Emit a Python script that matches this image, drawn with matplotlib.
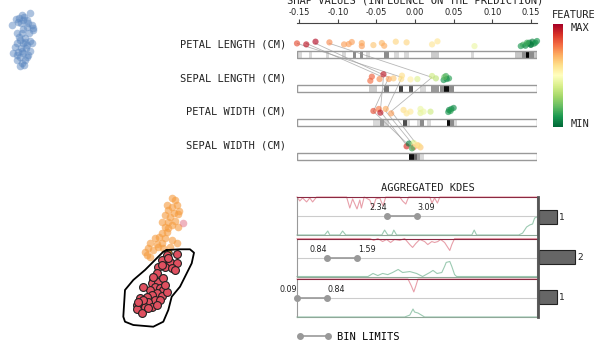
import numpy as np
import matplotlib
matplotlib.use("Agg")
import matplotlib.pyplot as plt
from matplotlib.lines import Line2D
from matplotlib.colors import Normalize
from matplotlib.cm import ScalarMappable

W, H = 603, 346

# ---- data -------------------------------------------------------------
# 2D projection (left), in projection units
blue_x = [30, 21.7, 19.3, 24, 16, 11.7, 20.7, 28.3, 31.7, 26.7, 33.3, 23.3, 16.7, 29.3, 21.7, 25, 30, 20, 16.7, 23.3,
          26.7, 31.7, 15, 20.7, 26, 18.3, 13.3, 23.3, 30, 28.3, 20, 16.7, 25, 21.7, 20, 24, 18.3, 27.3, 22.7, 33.3,
          19.3, 24.7, 22, 26.7, 17.3]
blue_y = [13.3, 15, 18.3, 16.7, 19.3, 25, 23.3, 22.7, 25, 26.7, 28.3, 29.3, 33.3, 32.7, 33.3, 38.3, 40.7, 40, 43.3, 43.3,
          45, 42.7, 46.7, 48.3, 48.3, 51.7, 53.3, 53.3, 50.7, 55, 56.7, 60, 60, 63.3, 66, 65, 21.7, 20, 20, 30,
          37.3, 41.7, 50.7, 57.3, 55]
orange_x = [171.7, 175, 166.7, 171.7, 176.7, 179.3, 168.3, 174, 165, 170, 178.3, 161.7, 168.3, 175, 171.7, 165, 178.3,
            161.7, 166.7, 159.3, 155, 165, 171.7, 150, 156.7, 161.7, 148.3, 153.3, 145, 150, 163.3, 176.7, 170, 146.7,
            158.3, 168.3]
orange_y = [198.3, 200, 205, 206.7, 205, 210.7, 210, 212.7, 215, 216.7, 214, 221.7, 221.7, 220.7, 225, 227.3, 226.7,
            233.3, 231.7, 236.7, 238.3, 238.3, 240, 243.3, 244, 242.7, 248.3, 250, 251.7, 256.7, 248.3, 243.3, 246.7, 255,
            246.7, 228.3]
red_x = [176.7, 166.7, 161.7, 170, 176.7, 165, 171.7, 175, 158.3, 156.7, 153.3, 151.7, 158.3, 163.3, 155, 160, 150,
         143.3, 163.3, 156.7, 151.7, 161.7, 146.7, 140, 155, 148.3, 141.7, 136.7, 145, 151.7, 136.7, 141.7, 148.3, 160,
         156.7, 166.7, 165, 153.3, 143.3, 138.3, 161.7, 168.3]
red_y = [254, 255, 260, 261.7, 263.3, 266.7, 268.3, 270, 267.3, 273.3, 280, 283.3, 281.7, 278.3, 286.7, 288.3, 290,
         287.3, 290, 293.3, 295, 296, 296.7, 298.3, 300, 301.7, 303.3, 305, 306.7, 306.7, 309.3, 312.7, 308.3, 300,
         305, 291.7, 285, 276.7, 300, 301.7, 265, 258.3]
lasso_x = [166.7, 180, 190, 194, 191.7, 185, 180, 171.7, 168.3, 163.3, 153.3, 133.3, 125, 123.3, 125, 133.3, 145,
           156.7, 163.3, 166.7]
lasso_y = [250, 249.3, 249.3, 252.7, 263.3, 276.7, 286.7, 296.7, 310, 321.7, 326.7, 325, 321.7, 316.7, 290, 280, 270,
           258.3, 251.7, 250]

features = ["PETAL LENGTH (CM)", "SEPAL LENGTH (CM)", "PETAL WIDTH (CM)", "SEPAL WIDTH (CM)"]
shap_ticks = [-0.15, -0.10, -0.05, 0.00, 0.05, 0.10, 0.15]

# shap values, feature value (0=min, 1=max), vertical jitter (row units)
pl_shap = [-0.153, -0.141, -0.129, -0.111, -0.092, -0.086, -0.082, -0.069, -0.069, -0.054, -0.043, -0.040, -0.025,
           -0.011, 0.022, 0.029, 0.077, 0.137, 0.140, 0.143, 0.146, 0.148, 0.150, 0.152, 0.154, 0.156, 0.158, 0.150,
           0.145]
pl_feat = [0.85, 0.95, 0.97, 0.75, 0.72, 0.72, 0.72, 0.70, 0.72, 0.65, 0.68, 0.70, 0.62, 0.62, 0.58, 0.58, 0.45,
           0.10, 0.15, 0.08, 0.12, 0.05, 0.10, 0.05, 0.12, 0.08, 0.10, 0.03, 0.15]
pl_jit = [-0.33, -0.30, -0.38, -0.36, -0.30, -0.31, -0.37, -0.34, -0.25, -0.28, -0.34, -0.26, -0.38, -0.36, -0.30,
          -0.39, -0.25, -0.25, -0.29, -0.26, -0.32, -0.35, -0.29, -0.38, -0.32, -0.35, -0.40, -0.29, -0.35]
sl_shap = [-0.058, -0.056, -0.046, -0.041, -0.034, -0.028, -0.017, -0.018, -0.006, 0.003, 0.022, 0.027, 0.037, 0.040,
           0.044, 0.041, 0.038]
sl_feat = [0.80, 0.82, 0.75, 0.95, 0.72, 0.65, 0.60, 0.60, 0.55, 0.42, 0.38, 0.35, 0.10, 0.15, 0.12, 0.08, 0.20]
sl_jit = [-0.23, -0.35, -0.28, -0.42, -0.28, -0.30, -0.38, -0.28, -0.27, -0.28, -0.37, -0.30, -0.25, -0.37, -0.30,
          -0.28, -0.34]
pw_shap = [-0.054, -0.047, -0.045, -0.038, -0.031, -0.015, -0.011, -0.006, 0.007, 0.007, 0.011, 0.020, 0.044, 0.047,
           0.050, 0.046, 0.043]
pw_feat = [0.85, 0.78, 0.95, 0.70, 0.72, 0.60, 0.58, 0.57, 0.45, 0.43, 0.45, 0.38, 0.05, 0.10, 0.08, 0.12, 0.10]
pw_jit = [-0.34, -0.40, -0.29, -0.40, -0.27, -0.37, -0.27, -0.32, -0.40, -0.28, -0.32, -0.32, -0.37, -0.40, -0.43,
          -0.34, -0.31]
sw_shap = [-0.011, -0.008, -0.002, -0.002, -0.004, 0.003, 0.007, 0.001, 0.005]
sw_feat = [0.90, 0.05, 0.40, 0.80, 0.15, 0.70, 0.65, 0.55, 0.60]
sw_jit = [-0.30, -0.38, -0.40, -0.27, -0.24, -0.33, -0.27, -0.35, -0.32]

# same instances followed across the four rows
inst_a = [-0.141, -0.041, -0.045, -0.011]
inst_b = [-0.129, -0.034, -0.054, -0.008]
inst_c = [-0.153, -0.017, -0.038, -0.002]
inst_d = [-0.111, 0.022, -0.031, 0.003]

# density strips: (left, right, grey level)
pl_cells = [(-0.153, -0.146, 0.85), (-0.138, -0.133, 0.85), (-0.116, -0.111, 0.85), (-0.095, -0.089, 0.85),
            (-0.081, -0.076, 0.55), (-0.072, -0.067, 0.55), (-0.063, -0.058, 0.85), (-0.040, -0.034, 0.55),
            (-0.027, -0.021, 0.85), (-0.014, -0.008, 0.85), (0.021, 0.031, 0.8), (0.073, 0.077, 0.85),
            (0.129, 0.138, 0.78), (0.138, 0.144, 0.55), (0.144, 0.147, 0.0), (0.147, 0.154, 0.55),
            (0.154, 0.158, 0.78)]
sl_cells = [(-0.060, -0.049, 0.8), (-0.040, -0.034, 0.45), (-0.021, -0.016, 0.25), (-0.008, -0.003, 0.35),
            (0.007, 0.014, 0.85), (0.021, 0.031, 0.6), (0.032, 0.037, 0.55), (0.037, 0.044, 0.05),
            (0.044, 0.050, 0.55)]
pw_cells = [(-0.054, -0.045, 0.85), (-0.045, -0.040, 0.6), (-0.040, -0.034, 0.85), (-0.016, -0.011, 0.3),
            (-0.011, -0.006, 0.85), (0.003, 0.007, 0.85), (0.007, 0.012, 0.55), (0.016, 0.021, 0.85),
            (0.041, 0.045, 0.05), (0.045, 0.050, 0.55), (0.050, 0.054, 0.85)]
sw_cells = [(-0.008, -0.002, 0.05), (-0.002, 0.003, 0.4), (0.003, 0.007, 0.65), (0.007, 0.012, 0.85)]

# aggregated kdes: x in feature units, red hangs from top, green rises from bottom
k1_red_x = [0.09, 0.16, 0.23, 0.33, 0.41, 0.48, 0.58, 1.33, 1.41, 1.48, 1.59, 1.66, 1.70, 1.77, 1.91, 1.99, 2.06, 2.16,
            2.24, 2.31, 2.66, 2.73, 2.81, 2.88, 3.41, 3.465, 3.53, 3.60, 3.66, 6.09]
k1_red_y = [0, 0.21, 0.05, 0.26, 0.05, 0.26, 0, 0, 0.58, 0.1, 0.63, 0.16, 0.58, 0, 0.16, 0.58, 0.1, 0.05, 0.47, 0,
            0, 0.21, 0.37, 0, 0, 0.32, 0.05, 0.32, 0, 0]
k1_grn_x = [0.09, 0.78, 0.86, 0.91, 1.16, 1.23, 1.31, 2.21, 2.28, 2.36, 2.46, 2.51, 2.58, 4.46, 4.52, 4.58, 5.63, 5.73,
            5.83, 5.91, 5.98, 6.03, 6.09]
k1_grn_y = [0, 0, 0.21, 0, 0, 0.21, 0, 0, 0.26, 0, 0, 0.26, 0, 0, 0.26, 0, 0, 0.1, 0.42, 0.53, 0.58, 0.89, 0.95]
k2_red_x = [0.09, 1.91, 2.01, 2.11, 2.23, 2.33, 2.43, 2.53, 2.66, 2.78, 2.91, 2.98, 3.06, 3.16, 3.28, 3.36, 3.46, 3.53,
            3.61, 3.68, 3.78, 3.86, 3.91, 3.96, 4.03, 6.09]
k2_red_y = [0, 0, 0.1, 0, 0.16, 0.05, 0.21, 0.05, 0.1, 0, 0.32, 0.47, 0.26, 0.05, 0.16, 0.32, 0.16, 0.21, 0.16, 0.05,
            0.21, 0.47, 0.63, 0.32, 0, 0]
k2_grn_x = [0.09, 1.865, 1.99, 2.11, 2.23, 2.36, 2.48, 2.62, 2.73, 2.91, 3.08, 3.23, 3.41, 3.49, 3.59, 3.71, 3.78, 3.82,
            3.91, 3.96, 4.03, 4.08, 6.09]
k2_grn_y = [0, 0, 0.16, 0.05, 0.16, 0.1, 0.21, 0.37, 0.21, 0.26, 0.16, 0, 0.21, 0.32, 0.16, 0.21, 0.53, 0.74, 0.79,
            0.53, 0.1, 0, 0]
k3_red_x = [0.09, 2.865, 2.95, 3.01, 3.06, 3.115, 6.09]
k3_red_y = [0, 0, 0.37, 0.68, 0.37, 0, 0]
k3_grn_x = [0.09, 2.78, 2.91, 2.99, 3.03, 3.115, 3.28, 6.09]
k3_grn_y = [0, 0, 0.1, 0.42, 0.26, 0.21, 0, 0]

bin_limits = [(2.34, 3.09), (0.84, 1.59), (0.09, 0.84)]
bin_counts = [1, 2, 1]

# ---- figure -----------------------------------------------------------
plt.rcParams["font.family"] = "DejaVu Sans Mono"
plt.rcParams["axes.unicode_minus"] = False
TXT = "#222222"
NUM = dict(family="DejaVu Sans")

fig = plt.figure(figsize=(W / 100, H / 100), dpi=100)


def px_axes(x0, y0, x1, y1):
    return fig.add_axes([x0 / W, 1 - y1 / H, (x1 - x0) / W, (y1 - y0) / H])


# left projection with lasso
ax = px_axes(0, 0, 200, 346)
ax.set_xlim(0, 200)
ax.set_ylim(346, 0)
ax.axis("off")
ax.scatter(blue_x, blue_y, s=30, color="#5b87c0", alpha=0.5, linewidths=0)
ax.scatter(orange_x, orange_y, s=30, color="#f59a3c", alpha=0.6, linewidths=0)
ax.scatter([183.3], [222.7], s=30, color="#e06a80", alpha=0.5, linewidths=0)
ax.plot(lasso_x, lasso_y, color="black", lw=1.3)
ax.scatter([168.3], [253.3], s=30, color="#e8861a", edgecolors="#333", linewidths=0.7)
ax.scatter(red_x, red_y, s=32, color="#e05060", edgecolors="#222", linewidths=0.8, zorder=3)

# shap rows
sx = px_axes(297, 23, 537, 165)
sx.set_xlim(-0.153, 0.158)
sx.set_ylim(3.25, -0.93)
for s in ["left", "right", "bottom"]:
    sx.spines[s].set_visible(False)
sx.spines["top"].set_color("#444")
sx.xaxis.tick_top()
sx.set_xticks(shap_ticks)
sx.set_xticklabels([f"{t:.2f}" for t in shap_ticks], fontsize=6, color=TXT, **NUM)
sx.tick_params(axis="x", length=3, pad=1.5, color="#444")
sx.set_yticks([i - 0.34 for i in range(4)])
sx.set_yticklabels(features, fontsize=7.5, color=TXT)
sx.tick_params(axis="y", length=0, pad=8)

rows_cells = [pl_cells, sl_cells, pw_cells, sw_cells]
for i, cells in enumerate(rows_cells):
    sx.barh(i, 0.311, left=-0.153, height=0.2, color="white", edgecolor="none")
    for l, r, g in cells:
        sx.barh(i, r - l, left=l, height=0.2, color=str(g), edgecolor="none")
    sx.barh(i, 0.311, left=-0.153, height=0.2, fill=False, edgecolor="#999", lw=1)

for inst in [inst_a, inst_b, inst_c, inst_d]:
    sx.plot(inst, [i - 0.33 for i in range(4)], color="#999", lw=0.6, alpha=0.7, zorder=2)

rows_pts = [(pl_shap, pl_feat, pl_jit), (sl_shap, sl_feat, sl_jit),
            (pw_shap, pw_feat, pw_jit), (sw_shap, sw_feat, sw_jit)]
for i, (xs, fv, jt) in enumerate(rows_pts):
    sx.scatter(xs, [i + j for j in jt], c=fv, cmap="RdYlGn_r", vmin=0, vmax=1, s=20, alpha=0.65,
               linewidths=0, clip_on=False, zorder=3)

fig.text(415 / W, 1 - 0.5 / H, "SHAP VALUES (INFLUENCE ON THE PREDICTION)", ha="center", va="center",
         fontsize=7.5, color=TXT)

# colour legend
cax = px_axes(553, 24, 563, 127)
cb = fig.colorbar(ScalarMappable(Normalize(0, 1), cmap="RdYlGn_r"), cax=cax)
cb.set_ticks([])
cb.outline.set_visible(False)
fig.text(552 / W, 1 - 15 / H, "FEATURE", ha="left", va="center", fontsize=7.5, color=TXT)
fig.text(571 / W, 1 - 28 / H, "MAX", ha="left", va="center", fontsize=7.5, color=TXT)
fig.text(571 / W, 1 - 124 / H, "MIN", ha="left", va="center", fontsize=7.5, color=TXT)

# aggregated kdes
fig.text(428 / W, 1 - 188 / H, "AGGREGATED KDES", ha="center", va="center", fontsize=7.5, color=TXT)
kdes = [(k1_red_x, k1_red_y, k1_grn_x, k1_grn_y), (k2_red_x, k2_red_y, k2_grn_x, k2_grn_y),
        (k3_red_x, k3_red_y, k3_grn_x, k3_grn_y)]
tops = [197, 238.5, 279]
for k, (rx, ry, gx, gy) in enumerate(kdes):
    kx = px_axes(297, tops[k], 537, tops[k] + 38)
    kx.set_xlim(0.09, 6.09)
    kx.set_ylim(-1, 1)
    kx.set_xticks([])
    kx.set_yticks([])
    for s in ["left", "right"]:
        kx.spines[s].set_color("#999")
    kx.spines["bottom"].set_color("#8fa898")
    kx.spines["top"].set_color("#8b2942")
    kx.axhline(0, color="#cccccc", lw=0.8)
    kx.plot(rx, [1 - v for v in ry], color="#e8a0aa", lw=0.8, clip_on=False)
    kx.plot(gx, [-1 + v for v in gy], color="#9ccab2", lw=0.8, clip_on=False)
    lo, hi = bin_limits[k]
    kx.plot([lo, hi], [0, 0], color="#999", lw=1.2, marker="o", ms=4, clip_on=False, zorder=4)
    kx.text(lo, 0.2, f"{lo:.2f}", ha="right", va="bottom", fontsize=5.8, color=TXT, **NUM)
    kx.text(hi + 0.02, 0.2, f"{hi:.2f}", ha="left", va="bottom", fontsize=5.8, color=TXT, **NUM)

bx = px_axes(538, 197, 600, 317)
bx.barh(range(3), bin_counts, height=0.35, color="#666", edgecolor="#222", lw=0.8)
bx.set_xlim(-0.06, 3.4)
bx.set_ylim(2.5, -0.5)
bx.set_xticks([])
bx.set_yticks([])
for s in ["top", "right", "bottom"]:
    bx.spines[s].set_visible(False)
bx.spines["left"].set_linewidth(2)
bx.spines["left"].set_color("#555")
for i, c in enumerate(bin_counts):
    bx.text(c + 0.12, i, str(c), va="center", ha="left", fontsize=6.5, color=TXT, **NUM)

fig.legend(handles=[Line2D([0], [0], color="#999", lw=1.2, marker="o", ms=4)], labels=["BIN LIMITS"],
           numpoints=2, loc="center left", bbox_to_anchor=(292 / W, 1 - 337 / H), frameon=False,
           handlelength=3.3, handletextpad=0.5, borderpad=0, prop=dict(size=7.5))

fig.savefig("out.png", dpi=100)
